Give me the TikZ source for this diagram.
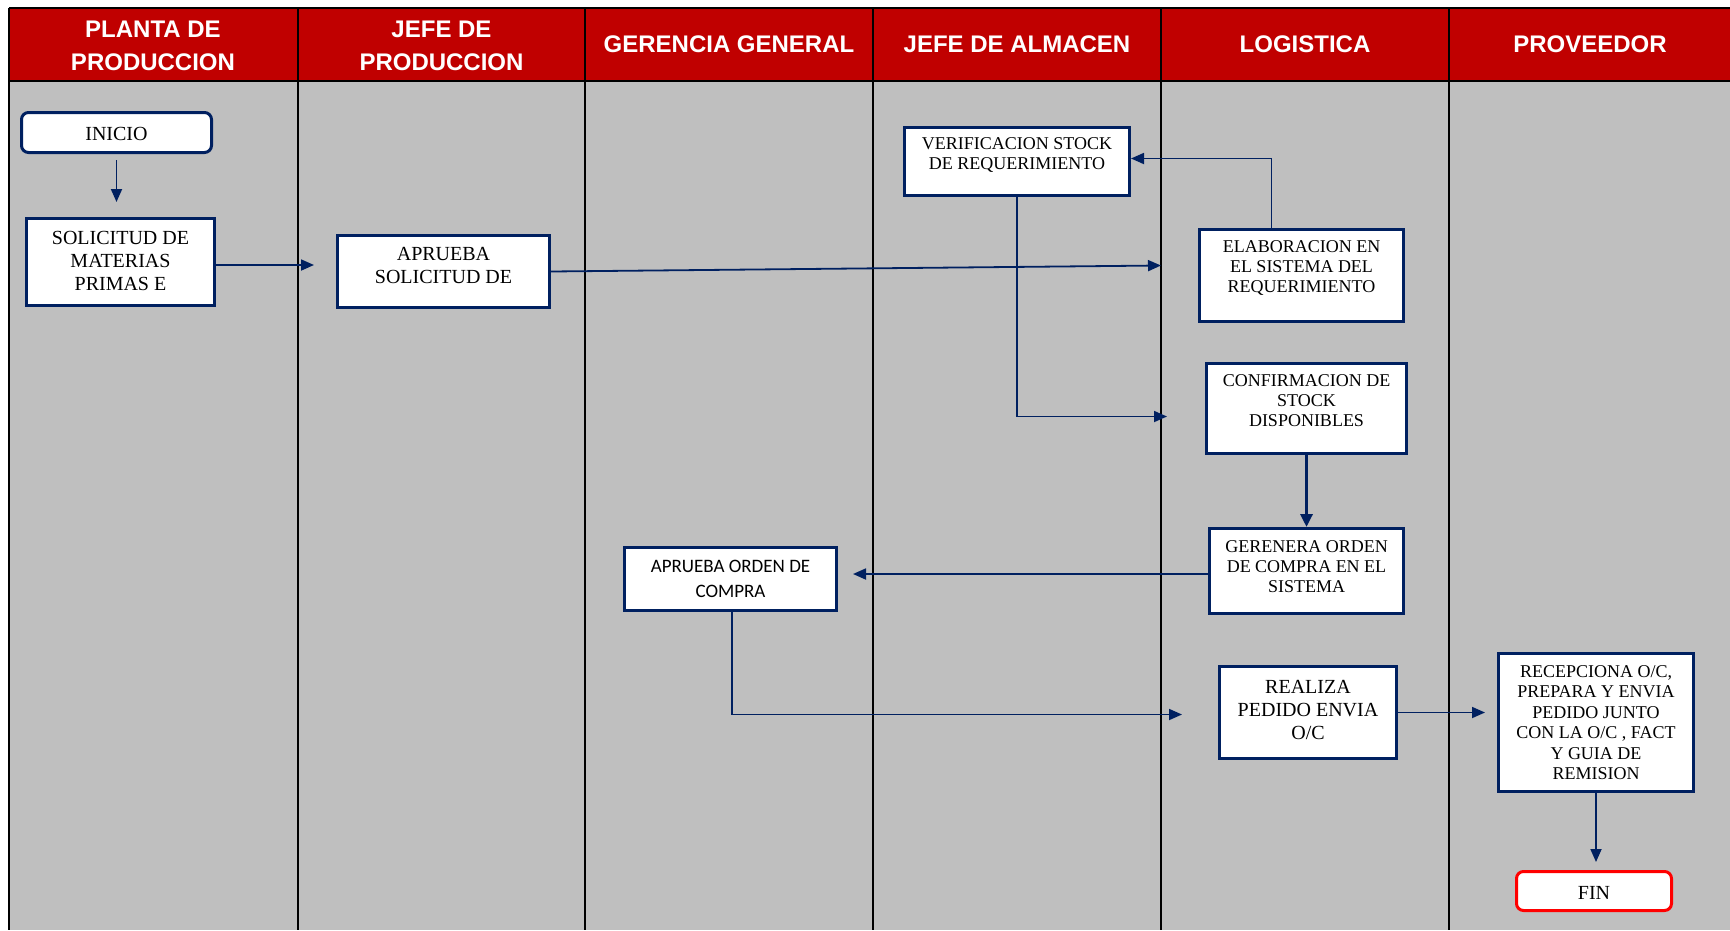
\documentclass[tikz,border=0pt]{standalone}
\usepackage{fontspec}
\setmainfont{Liberation Serif}
\newfontfamily\hdrfont{Liberation Sans}
\newfontfamily\calfont{Carlito}
\usetikzlibrary{arrows.meta,calc}
\definecolor{hdrred}{RGB}{192,0,0}
\definecolor{lanegray}{RGB}{191,191,191}
\definecolor{navy}{RGB}{0,32,96}
\definecolor{finred}{RGB}{255,0,0}
\begin{document}
\begin{tikzpicture}[x=1pt,y=-1pt,
 box/.style={draw=navy,line width=3pt,fill=white,inner sep=0pt},
 txt/.style={align=center,inner sep=0pt,font=\fontsize{18}{20}\selectfont},
 txtb/.style={align=center,inner sep=0pt,font=\fontsize{20}{23}\selectfont},
 hdr/.style={align=center,inner sep=0pt,text=white,font=\hdrfont\bfseries\fontsize{24}{33}\selectfont},
 flow/.style={draw=navy,line width=1.8pt,-{Triangle[length=13pt,width=11pt]}},
 lane/.style={draw=black,line width=2pt}
 ]
\useasboundingbox (0,0) rectangle (1730,930);
% lanes
\fill[lanegray] (8.8,80.5) rectangle (1730,930);
\fill[hdrred] (8.8,7.7) rectangle (1730,80.5);
\draw[lane] (8.8,7.7) -- (1730,7.7);
\draw[lane] (8.8,80.5) -- (1730,80.5);
\foreach \xx in {8.8,298,585,873,1161,1449} \draw[lane] (\xx,7.7) -- (\xx,930);
% headers
\node[hdr] (h1) at (153,45.5) {PLANTA DE\\PRODUCCION};
\node[hdr] (h2) at (441.5,45.5) {JEFE DE\\PRODUCCION};
\node[hdr] (h3) at (729,44.5) {GERENCIA GENERAL};
\node[hdr] (h4) at (1017,44.5) {JEFE DE ALMACEN};
\node[hdr] (h5) at (1305,44.5) {LOGISTICA};
\node[hdr] (h6) at (1590,44.5) {PROVEEDOR};
% boxes
\node[box,rounded corners=7pt,minimum width=190pt,minimum height=40pt] (inicio) at (116.5,132.5) {};
\node[txtb] (tinicio) at ($(inicio.center)+(0,1)$) {INICIO};
\node[box,minimum width=188pt,minimum height=87pt] (sol) at (120.5,262) {};
\node[txtb] (tsol) at ($(sol.center)+(0,-1)$) {SOLICITUD DE\\MATERIAS\\PRIMAS E};
\node[box,minimum width=212pt,minimum height=72pt] (apr1) at (443.5,271.5) {};
\node[txtb] (tapr1) at ($(apr1.center)+(0,-6)$) {APRUEBA\\SOLICITUD DE};
\node[box,minimum width=225pt,minimum height=68pt] (verif) at (1017,161.5) {};
\node[txt] (tverif) at ($(verif.center)+(0,-7)$) {VERIFICACION STOCK\\DE REQUERIMIENTO};
\node[box,minimum width=204pt,minimum height=92pt] (elab) at (1301.5,275.5) {};
\node[txt] (telab) at ($(elab.center)+(0,-8)$) {ELABORACION EN\\EL SISTEMA DEL\\REQUERIMIENTO};
\node[box,minimum width=200pt,minimum height=90pt] (conf) at (1306.5,408.5) {};
\node[txt] (tconf) at ($(conf.center)+(0,-8)$) {CONFIRMACION DE\\STOCK\\DISPONIBLES};
\node[box,minimum width=194pt,minimum height=85pt] (gen) at (1306.5,571) {};
\node[txt] (tgen) at ($(gen.center)+(0,-4)$) {GERENERA ORDEN\\DE COMPRA EN EL\\SISTEMA};
\node[box,minimum width=212pt,minimum height=63pt] (apr2) at (730.5,579) {};
\node[align=center,inner sep=0pt,font=\calfont\fontsize{19}{25}\selectfont] (tapr2) at ($(apr2.center)+(0,0)$) {APRUEBA ORDEN DE\\COMPRA};
\node[box,minimum width=177pt,minimum height=92pt] (real) at (1308,712.5) {};
\node[txtb] (treal) at ($(real.center)+(0,-3)$) {REALIZA\\PEDIDO ENVIA\\O/C};
\node[box,minimum width=195pt,minimum height=138pt] (rec) at (1596,722.5) {};
\node[align=center,inner sep=0pt,font=\fontsize{18}{20.5}\selectfont] (trec) at ($(rec.center)+(0,0)$) {RECEPCIONA O/C,\\PREPARA Y ENVIA\\PEDIDO JUNTO\\CON LA O/C , FACT\\Y GUIA DE\\REMISION};
\node[box,draw=finred,rounded corners=7pt,minimum width=155pt,minimum height=39pt] (fin) at (1594,891) {};
\node[txtb] (tfin) at ($(fin.center)+(0,2)$) {FIN};
% connectors
\draw[flow,shorten <=6pt,shorten >=15pt] (inicio.south) -- (inicio.south |- sol.north);
\draw[flow,shorten >=22pt] ($(sol.east)+(0,3)$) -- ($(sol.east -| apr1.west)+(0,3)$);
\draw[flow] (apr1.east) -- ($(elab.west)+(-37,-10)$);
\draw[flow] ($(elab.north)+(-30,0)$) |- ($(verif.east)+(0,-3)$);
\draw[flow] (verif.south) |- ($(conf.west)+(-38,8)$);
\draw[flow,line width=3.2pt,-{Triangle[length=13pt,width=12pt]}] (conf.south) -- (gen.north);
\draw[flow,shorten >=15pt] ($(gen.west)+(0,3)$) -- ($(gen.west -| apr2.east)+(0,3)$);
\draw[flow] ($(apr2.south)+(1.5,0)$) |- ($(real.west)+(-36,2)$);
\draw[flow,shorten >=12pt] (real.east) -- (real.east -| rec.west);
\draw[flow,shorten >=8pt] (rec.south) -- (rec.south |- fin.north);
\end{tikzpicture}
\end{document}
